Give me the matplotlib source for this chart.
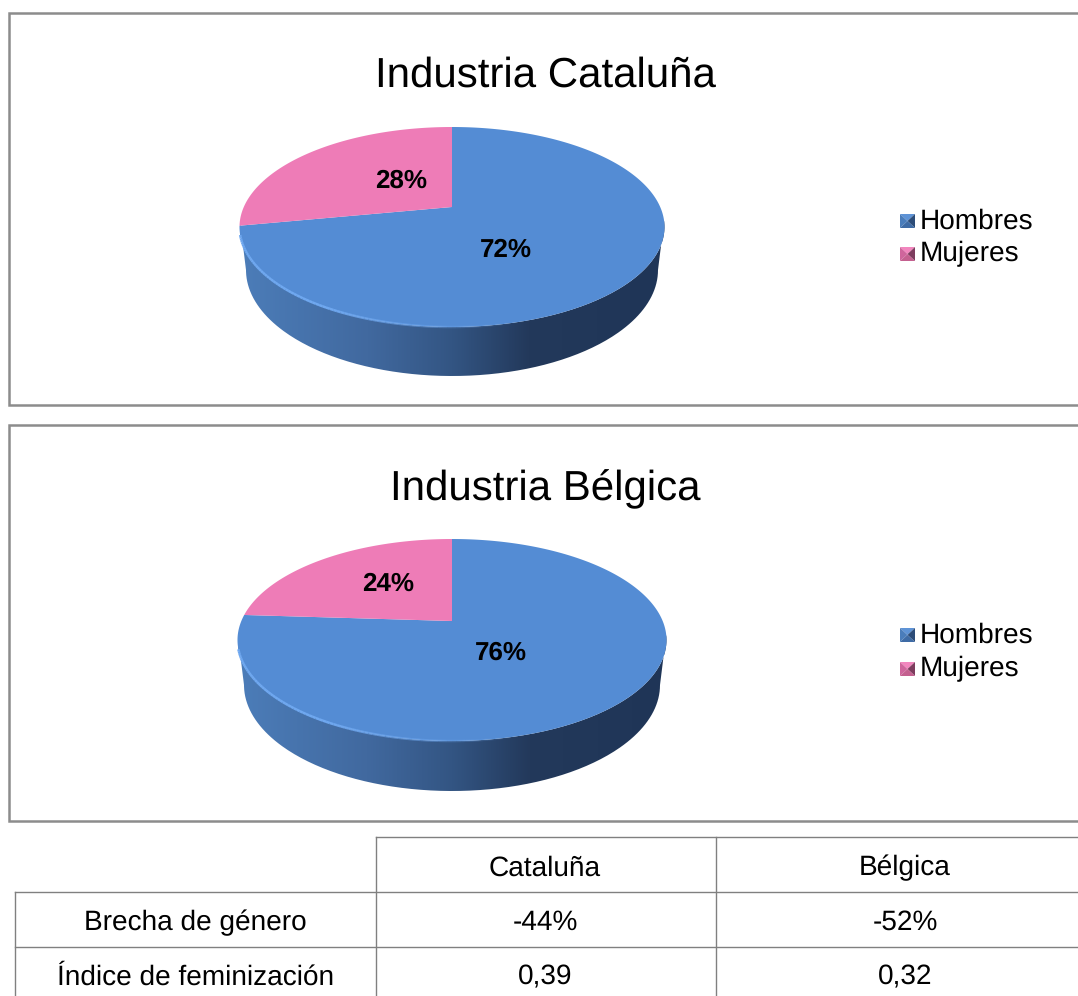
import numpy as np
import matplotlib
matplotlib.use("Agg")
import matplotlib.pyplot as plt
from matplotlib.collections import LineCollection
from matplotlib.colors import LinearSegmentedColormap
from matplotlib.patches import PathPatch, Polygon, Rectangle
from matplotlib.path import Path
from matplotlib.transforms import Affine2D, Transform

plt.rcParams['font.family'] = ['Liberation Sans', 'DejaVu Sans']
plt.rcParams['text.hinting'] = 'none'
plt.rcParams['text.hinting_factor'] = 1

# ---- data ----
categories = ["Hombres", "Mujeres"]
cataluna_values = [72, 28]
belgica_values = [76, 24]
chart_titles = ["Industria Cataluña", "Industria Bélgica"]
table_columns = ["", "Cataluña", "Bélgica"]
table_rows = ["Brecha de género", "Índice de feminización"]
table_cataluna = ["-44%", "0,39"]
table_belgica = ["-52%", "0,32"]

# ---- style ----
BLUE = "#548CD4"
PINK = "#EE7CB7"
FRAME = "#8C8C8C"
GRID = "#808080"
side_cmap = LinearSegmentedColormap.from_list(
    "side", [(0, "#4C7DB9"), (0.3, "#41699F"), (0.5, "#335583"),
             (0.68, "#23395B"), (1, "#1F3557")])


class Perspective(Transform):
    """Tilted view of the unit disc, into pixel-like axes coordinates."""
    input_dims = output_dims = 2
    is_separable = False
    has_inverse = False

    def __init__(self, cx, cy, rx, ry, tilt):
        super().__init__()
        self.cx, self.cy, self.rx, self.ry, self.tilt = cx, cy, rx, ry, tilt
        self.k = rx * np.sqrt(1 - tilt ** 2)

    def transform_non_affine(self, v):
        v = np.asarray(v, float)
        d = 1 + self.tilt * v[:, 1]
        x = self.cx + self.k * v[:, 0] / d
        y = self.cy - self.ry * (v[:, 1] + self.tilt) / d
        return np.column_stack([x, y])

    def transform_path_non_affine(self, path):
        big = path.transformed(Affine2D().scale(2000))
        polys = big.to_polygons(closed_only=True)
        return Path(self.transform_non_affine(polys[0] / 2000))


fig = plt.figure(figsize=(10.78, 9.96), dpi=100, facecolor="white")
ax = fig.add_axes([0, 0, 1, 1])


def draw_pie(values, title, frame_y, title_y, disc, bottom, label_xy, legend_y):
    ax.add_patch(Rectangle((8.5, frame_y[0]), 1200, frame_y[1] - frame_y[0],
                           fc="white", ec=FRAME, lw=1.8, zorder=1))
    ax.text(545, title_y, title, fontsize=30.6, ha="center", va="center",
            color="black", zorder=6)
    persp = Perspective(*disc)

    # pie side: lower rim of the disc down to the bottom ellipse
    t = np.radians(np.linspace(188, 352, 200))
    rim = persp.transform(np.column_stack([np.cos(t), np.sin(t)]))
    bcx, bcy, brx, bry = bottom
    s = np.radians(np.linspace(0, 180, 200))
    low = np.column_stack([bcx + brx * np.cos(s), bcy + bry * np.sin(s)])
    clip = PathPatch(Path(np.vstack([rim, low, rim[:1]])), transform=ax.transData,
                     fc="none", ec="none")
    ax.add_patch(clip)
    grad = np.linspace(0, 1, 256).reshape(1, -1)
    im = ax.imshow(grad, cmap=side_cmap, aspect="auto", zorder=2,
                   extent=(disc[0] - disc[2], disc[0] + disc[2], bcy + bry, disc[1] - 20))
    im.set_clip_path(clip)

    # top face
    wedges, _ = ax.pie(values, colors=[BLUE, PINK], startangle=90, counterclock=False,
                       wedgeprops=dict(lw=0), frame=True)
    for w in wedges:
        w.set_transform(persp + ax.transData)
        w.set_zorder(3)

    # light bevel along the lower-left rim, fading towards the front
    t = np.radians(np.linspace(196, 285, 90))
    edge = persp.transform(np.column_stack([np.cos(t), np.sin(t)]))
    segs = np.stack([edge[:-1], edge[1:]], axis=1)
    fade = np.clip((285 - np.linspace(196, 285, 89)) / 45, 0, 1)
    rgba = np.tile(matplotlib.colors.to_rgba("#6FA8F0"), (89, 1))
    rgba[:, 3] = fade
    ax.add_collection(LineCollection(segs, colors=rgba, linewidths=1.8, zorder=4),
                      autolim=False)

    # data labels
    for v, (x, y) in zip(values, label_xy):
        ax.text(x, y, f"{v}%", fontsize=19, fontweight="bold", ha="center",
                va="center", color="black", zorder=6)

    # legend
    shades = [("#5E93D6", "#4A7DBB", "#2C4C78", "#3E6BA5"),
              ("#F286BE", "#CF659C", "#7D3C5E", "#C4608F")]
    for name, sh, ly in zip(categories, shades, legend_y):
        x0, x1, y0, y1 = 900, 915, ly - 7, ly + 7
        xc, yc = (x0 + x1) / 2, (y0 + y1) / 2
        for col, pts in zip(sh, [[(x0, y0), (x1, y0), (xc, yc)],
                                 [(x0, y0), (x0, y1), (xc, yc)],
                                 [(x1, y0), (x1, y1), (xc, yc)],
                                 [(x0, y1), (x1, y1), (xc, yc)]]):
            ax.add_patch(Polygon(pts, fc=col, ec="none", zorder=5))
        ax.text(919.5, ly, name, fontsize=20, ha="left", va="center",
                color="black", zorder=6)


draw_pie(cataluna_values, chart_titles[0], (13, 405), 76,
         (452, 227, 212.5, 100, 0.2), (452, 270, 206, 106),
         [(506, 250), (401, 181)], [221, 254])
draw_pie(belgica_values, chart_titles[1], (425, 821), 489.5,
         (452, 640, 214.5, 101, 0.188), (452, 685, 208, 106),
         [(501, 653), (388, 584)], [635, 669])

# ---- table ----
col_x = [15, 376, 716, 1078]
row_y = [837, 892, 947, 1002]
ax.plot([col_x[1], 1100], [row_y[0]] * 2, color=GRID, lw=1, zorder=1)
for y in row_y[1:3]:
    ax.plot([col_x[0], 1100], [y, y], color=GRID, lw=1, zorder=1)
ax.plot([col_x[0]] * 2, [row_y[1], 1000], color=GRID, lw=1, zorder=1)
for x in col_x[1:3]:
    ax.plot([x, x], [row_y[0], 1000], color=GRID, lw=1, zorder=1)

cx = [195.5, 545, 905]
ty = [868, 922.5, 977.5]
for j, head in enumerate(table_columns):
    if head:
        ax.text(cx[j], ty[0], head, fontsize=19.9, ha="center", va="center")
for i, row in enumerate(table_rows):
    ax.text(cx[0], ty[i + 1], row, fontsize=19.9, ha="center", va="center")
    ax.text(cx[1], ty[i + 1], table_cataluna[i], fontsize=19.9, ha="center", va="center")
    ax.text(cx[2], ty[i + 1], table_belgica[i], fontsize=19.9, ha="center", va="center")

ax.set_aspect("auto")
ax.set_xlim(0, 1078)
ax.set_ylim(996, 0)
ax.set_axis_off()
fig.savefig("out.png", dpi=100, facecolor="white")
